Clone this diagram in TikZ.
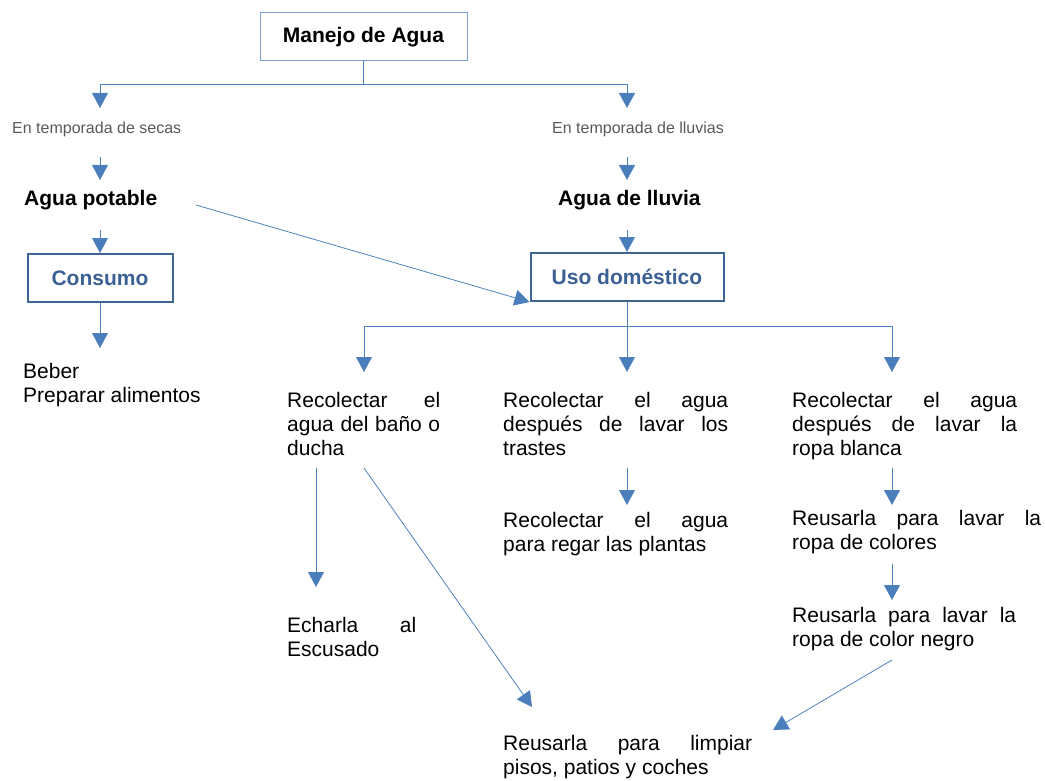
\documentclass[tikz,border=0pt]{standalone}
\usepackage{fontspec}
\setmainfont{Liberation Sans}
\usetikzlibrary{arrows.meta}
\definecolor{lineblue}{RGB}{79,129,189}
\definecolor{tipblue}{RGB}{74,126,187}
\definecolor{boxblue}{RGB}{63,101,151}
\definecolor{lightbox}{RGB}{120,158,210}
\definecolor{txtblue}{RGB}{59,96,148}
\definecolor{graytxt}{RGB}{89,89,89}
\tikzset{
  conn/.style={draw=lineblue, line width=0.8pt},
  arr/.style={conn, -{Triangle[width=16pt,length=15pt,fill=tipblue]}},
  body/.style={inner sep=0pt, anchor=north west, align=left, font=\fontsize{21}{24}\selectfont},
  bold/.style={inner sep=0pt, anchor=north west, font=\fontsize{21}{24}\selectfont\bfseries},
  small/.style={inner sep=0pt, anchor=north west, text=graytxt, font=\fontsize{16}{19}\selectfont},
  topbox/.style={draw=lightbox, line width=1pt, minimum width=207pt, minimum height=48pt, inner sep=0pt, font=\fontsize{21}{24}\selectfont\bfseries},
  bluebox/.style={draw=boxblue, line width=2pt, minimum height=48pt, inner sep=0pt, text=txtblue, font=\fontsize{21}{24}\selectfont\bfseries}
}
\begin{document}
\begin{tikzpicture}[x=1pt,y=-1pt]
\useasboundingbox (0,0) rectangle (1045,781);
% nodes
\node[topbox] (manejo) at (363.5,37) {Manejo de Agua};
\node[small] (secas) at (12,121.5) {En temporada de secas};
\node[small] (lluvias) at (552,121.5) {En temporada de lluvias};
\node[bold] (potable) at (24,190) {Agua potable};
\node[bold] (lluvia) at (558,190) {Agua de lluvia};
\node[bluebox, minimum width=145pt] (consumo) at (100,278) {Consumo};
\node[bluebox, minimum width=193pt] (uso) at (627,277) {Uso doméstico};
\node[body] (beber) at (23,363) {Beber\\Preparar alimentos};
\node[body] (c1) at (287,392) {\makebox[153pt][s]{Recolectar el}\\\makebox[153pt][s]{agua del baño o}\\ducha};
\node[body] (c2) at (503,392) {\makebox[225pt][s]{Recolectar el agua}\\\makebox[225pt][s]{después de lavar los}\\trastes};
\node[body] (c3) at (792,392) {\makebox[225pt][s]{Recolectar el agua}\\\makebox[225pt][s]{después de lavar la}\\ropa blanca};
\node[body] (c2b) at (503,512) {\makebox[225pt][s]{Recolectar el agua}\\para regar las plantas};
\node[body] (c3b) at (792,510) {\makebox[249pt][s]{Reusarla para lavar la}\\ropa de colores};
\node[body] (c3c) at (792,607) {\makebox[224pt][s]{Reusarla para lavar la}\\ropa de color negro};
\node[body] (echarla) at (287,617) {\makebox[129pt][s]{Echarla al}\\Escusado};
\node[body] (limpiar) at (503,735) {\makebox[249pt][s]{Reusarla para limpiar}\\pisos, patios y coches};
% connectors
\draw[conn] (manejo.south) -- ++(0,23) coordinate (j1);
\draw[arr] (j1) -| ([shift={(88,-13.5)}]secas.north west);
\draw[arr] (j1) -| ([shift={(75,-13.5)}]lluvias.north west);
\draw[arr] ([shift={(88,35.5)}]secas.north west) -- ([shift={(76,-10)}]potable.north west);
\draw[arr] ([shift={(75,35.5)}]lluvias.north west) -- ([shift={(69,-10)}]lluvia.north west);
\draw[arr] ([shift={(76,40)}]potable.north west) -- (consumo.north);
\draw[arr] ([shift={(69,40)}]lluvia.north west) -- (uso.north);
\draw[arr] ([shift={(172,15)}]potable.north west) -- (uso.south west);
\draw[arr] (consumo.south) -- ([shift={(77,-15)}]beber.north west);
\draw[conn] (uso.south) -- ++(0,24) coordinate (j2);
\draw[arr] (j2) -| ([shift={(77,-20)}]c1.north west);
\draw[arr] (j2) -- ([shift={(124,-20)}]c2.north west);
\draw[arr] (j2) -| ([shift={(100,-20)}]c3.north west);
\draw[arr] ([shift={(29,76)}]c1.north west) -- ([shift={(29,-30)}]echarla.north west);
\draw[arr] ([shift={(77,76)}]c1.north west) -- ([shift={(29,-28)}]limpiar.north west);
\draw[arr] ([shift={(124,76)}]c2.north west) -- ([shift={(124,-7)}]c2b.north west);
\draw[arr] ([shift={(100,76)}]c3.north west) -- ([shift={(100,-5)}]c3b.north west);
\draw[arr] ([shift={(100,54)}]c3b.north west) -- ([shift={(100,-7)}]c3c.north west);
\draw[arr] ([shift={(100,53)}]c3c.north west) -- ([shift={(270,-5)}]limpiar.north west);
\end{tikzpicture}
\end{document}
